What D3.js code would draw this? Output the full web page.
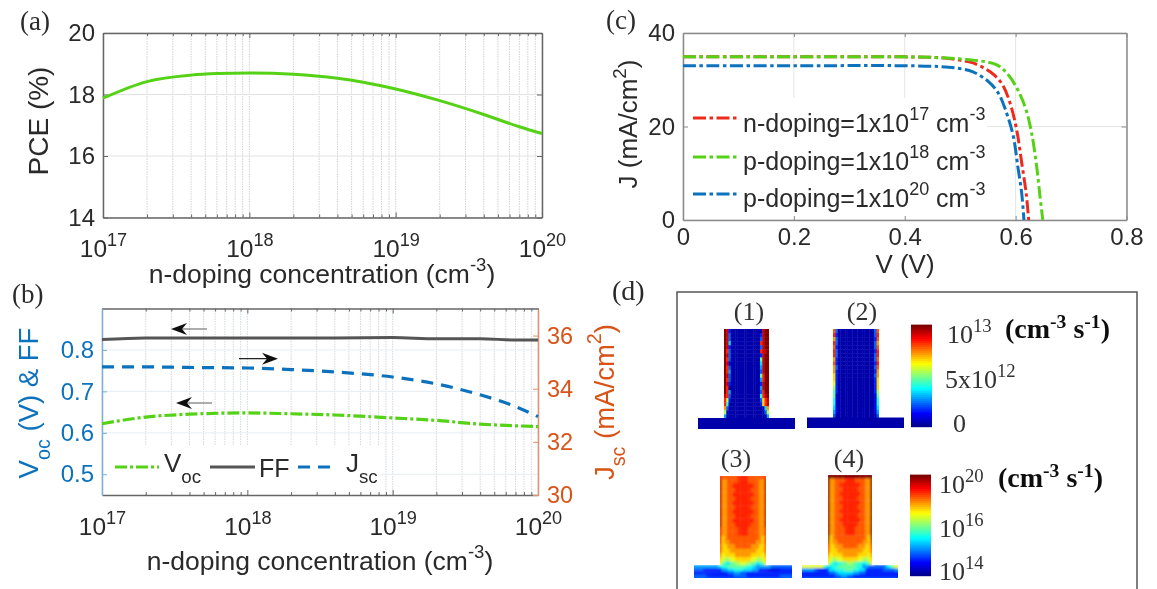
<!DOCTYPE html>
<html>
<head>
<meta charset="utf-8">
<script src="https://cdn.jsdelivr.net/npm/d3@7/dist/d3.min.js"></script>
<style>
html,body{margin:0;padding:0;background:#fff;overflow:hidden}
svg{display:block}
text{font-family:"Liberation Sans",Arial,sans-serif;fill:#2a2a2a}
.serif{font-family:"Liberation Serif","Times New Roman",serif}
</style>
</head>
<body>
<svg id="chart" width="1157" height="589"></svg>
<script>
// ---------- panel (a)
const dopingA = [1e17,2e17,4e17,6e17,1e18,2e18,4e18,6e18,1e19,2e19,4e19,7e19,1e20];
const pce     = [17.88,18.42,18.63,18.68,18.70,18.66,18.53,18.40,18.18,17.80,17.35,16.95,16.73];
const pceTicks = [14,16,18,20];
const decadeTicks = [1e17,1e18,1e19,1e20];
const minorMultipliers = [2,3,4,5,6,7,8,9];
// ---------- panel (b)
const dopingB = [1e17,2e17,4e17,1e18,2e18,4e18,1e19,2e19,4e19,7e19,1e20];
const voc = [0.622,0.638,0.645,0.648,0.646,0.643,0.636,0.630,0.621,0.617,0.615];
const ff  = [0.825,0.829,0.829,0.829,0.829,0.829,0.830,0.827,0.827,0.824,0.824];
const jsc = [34.82,34.82,34.80,34.78,34.72,34.63,34.44,34.18,33.77,33.33,32.95];
const leftTicksB = [0.5,0.6,0.7,0.8];
const rightTicksB = [30,32,34,36];
// ---------- panel (c)
const vGreen = [0,0.20,0.40,0.4643,0.523,0.566,0.587,0.604,0.619,0.629,0.638,0.644,0.649];
const jGreen = [34.9,34.9,34.9,34.7,34.2,33.2,31.0,27.8,23.5,18.5,11.4,5.0,0];
const vRed   = [0,0.20,0.40,0.4643,0.4985,0.523,0.554,0.575,0.590,0.602,0.611,0.619,0.6235];
const jRed   = [34.9,34.9,34.9,34.7,34.2,33.6,31.7,29.2,25.0,19.2,12.2,5.7,0];
const vBlue  = [0,0.20,0.40,0.4643,0.4985,0.523,0.551,0.569,0.584,0.596,0.604,0.611,0.615];
const jBlue  = [33.0,33.0,33.0,32.8,32.4,31.7,29.6,27.1,22.8,17.8,11.4,5.7,0];
const vTicks = [0,0.2,0.4,0.6,0.8];
const jTicks = [0,20,40];
// ---------- panel (d): hand-read maps, each character is one level 0..f on the jet scale
const map1Column = [
"fe200000000000000eff","fe300000000000002eff","fe300000000000003eff","fe50000000000000deff",
"fe200000000000003eff","fd30000000000000deef","fe300000000000002eff","fd300000000000007eff",
"fe100000000000005eff","fd300000000000004eff","fd400000000000003eff","fe300000000000007dff",
"fd300000000000004dff","fe200000000000002eff","fd000000000000004eff","fd400000000000003dff",
"ed300000000000006def","d8200000000000003ade","d6000000000000002ade","b300000000000000005b",
"81000000000000000038","40000000000000000004"];
const map1Base = ["0"];
const map2Column = [
"c30000000000000003c","d20000000000000003d","b30000000000000002c","d30000000000000003b",
"c20000000000000003c","d30000000000000002d","d30000000000000003d","b20000000000000003c",
"c20000000000000002d","b30000000000000003c","b20000000000000002b","a20000000000000003b",
"a20000000000000002a","920000000000000002a","820000000000000002a","7200000000000000028",
"7100000000000000017","6100000000000000016","6100000000000000016",
"5100000000000000015","4100000000000000014","3000000000000000003"];
const map2Base = ["0"];
const map3Column = [
"dccccccddddccccccd","ebbccccddddccccbbe","ebbccddddddddccbbe","ebbcccddddddcccbbe",
"ebbccddddddddccbbe","ebbcccddddddcccbbe","ebbccddddddddccbbe","ebbcccddddddcccbbe",
"ebbccddddddddccbbe","ebbcccddddddcccbbe","ebbccddddddddccbbe","ebbcccddddddcccbbe",
"dbbccccddddccccbbd","dbbccccddddccccbbd","dabccccccccccccbad","dabbccccccccccbbad",
"caabbbccccccbbbaac","caaabbbbbbbbbbaaac","b9aaaabbbbbbaaaa9b","a98899aaaaaa99889a",
"976577889988775679"];
const map3Base = ["4444444445667777776654444433333333","3333222222445566655544222111122222","2222222222223344332222222222222222","3333322222222233332222222222233333","3333333333333333333333333333333333"];
const map4Column = [
"ffffffffffffffffff","fbbccccddddccccbbf","fbbccddddddddccbbf","fbbcccddddddcccbbf",
"fbbccddddddddccbbf","fbbcccddddddcccbbf","fbbccddddddddccbbf","fbbcccddddddcccbbf",
"fbbccddddddddccbbf","fbbcccddddddcccbbf","fbbccddddddddccbbf","fbbcccddddddcccbbf",
"fbbccccddddccccbbf","fbbccccddddccccbbf","fabccccccccccccbaf","eabbccccccccccbbae",
"daabbbccccccbbbaad","caaabbbbbbbbbbaaac","b9aaaabbbbbbaaaa9b","a98899aaaaaa99889a",
"976566778877665679"];
const map4Base = ["9999999975566777777664433333356899","4444432222556667776655222222333344","2222222222334555554433222222222222","2222222222223344332222222222222222","3333333333333333333333333333333333"];
const colorbarLevels = d3.range(0,1.0001,0.02);

// ---------- styles
const GREEN="#55d218", DARK="#555555", BLUE="#0f72bd", ORANGE="#d95319", RED="#ee2a1e";
const svg=d3.select("#chart");
const defs=svg.append("defs");
const blur=(id,s)=>defs.append("filter").attr("id",id).attr("x","-10%").attr("y","-10%").attr("width","120%").attr("height","120%")
  .append("feGaussianBlur").attr("stdDeviation",s);
blur("soft",0.45); blur("soft2",0.5); blur("soft3",0.9);
const root=svg.append("g").attr("filter","url(#soft)");
root.append("rect").attr("width",1157).attr("height",589).attr("fill","#fff");

// text helper: parts are strings, or [text,"sup"|"sub"]
function rich(sel,parts,size,opts={}){
  const smallK=opts.k||0.68, up=opts.up||0.48, dn=opts.dn||0.3;
  sel.text(null).attr("font-size",size);
  let shift=0;
  parts.forEach(p=>{
    const s=typeof p==="string"?p:p[0], kind=typeof p==="string"?null:p[1];
    const ts=sel.append("tspan").text(s);
    let target=0;
    if(kind==="sup"){ts.attr("font-size",size*smallK);target=-size*up;}
    else if(kind==="sub"){ts.attr("font-size",size*smallK);target=size*dn;}
    if(target!==shift){ts.attr("dy",target-shift);shift=target;}
  });
  return sel;
}
function put(x,y,parts,size,o={}){
  const t=root.append("text").attr("x",x).attr("y",y)
    .attr("text-anchor",o.anchor||"start");
  if(o.cls)t.attr("class",o.cls);
  if(o.bold)t.attr("font-weight","bold");
  if(o.fill)t.style("fill",o.fill);
  if(o.rot)t.attr("transform",`rotate(-90 ${x} ${y})`);
  rich(t,parts,size,o);
  return t;
}
const minorTicks=d3.merge(decadeTicks.slice(0,-1).map(d=>minorMultipliers.map(m=>d*m)));
const expOf=d=>String(Math.round(Math.log10(d)));

function logGrid(g,x,y,gridCol,yVals,minorCol){
  g.selectAll(".gx").data(minorTicks.concat(decadeTicks)).join("line")
    .attr("x1",d=>x(d)).attr("x2",d=>x(d)).attr("y1",y.range()[0]).attr("y2",y.range()[1])
    .attr("stroke",minorCol).attr("stroke-width",1).attr("stroke-dasharray","1.5 1");
  g.selectAll(".gy").data(yVals).join("line")
    .attr("x1",x.range()[0]).attr("x2",x.range()[1]).attr("y1",d=>y(d)).attr("y2",d=>y(d))
    .attr("stroke",gridCol).attr("stroke-width",1);
}
function decadeAxis(g,x,yBottom,yTop,labelY,col){
  const b=g.append("g").attr("transform",`translate(0,${yBottom})`)
    .call(d3.axisBottom(x).tickValues(decadeTicks).tickSizeInner(-5).tickSizeOuter(0).tickPadding(0));
  b.select(".domain").attr("stroke",col).attr("stroke-width",1.5);
  b.selectAll(".tick line").attr("stroke",col);
  b.selectAll(".tick text").attr("y",labelY-yBottom).attr("dy",0).attr("text-anchor","middle")
    .each(function(d){rich(d3.select(this),["10",[expOf(d),"sup"]],24.5,{k:0.74,up:0.46});});
  const m=g.append("g").attr("transform",`translate(0,${yBottom})`)
    .call(d3.axisBottom(x).tickValues(minorTicks).tickSize(-3).tickFormat(""));
  m.select(".domain").remove(); m.selectAll("line").attr("stroke",col);
  const t=g.append("g").attr("transform",`translate(0,${yTop})`)
    .call(d3.axisTop(x).tickValues(decadeTicks).tickSizeInner(-5).tickSizeOuter(0).tickFormat(""));
  t.select(".domain").attr("stroke",col).attr("stroke-width",1.5);
  t.selectAll("line").attr("stroke",col);
  const tm=g.append("g").attr("transform",`translate(0,${yTop})`)
    .call(d3.axisTop(x).tickValues(minorTicks).tickSize(-3).tickFormat(""));
  tm.select(".domain").remove(); tm.selectAll("line").attr("stroke",col);
}
function sideAxis(g,gen,xPos,ticks,col,textCol,size,pad,fmt,showText=true){
  const a=g.append("g").attr("transform",`translate(${xPos},0)`)
    .call(gen.tickValues(ticks).tickSizeInner(-5).tickSizeOuter(0).tickPadding(pad).tickFormat(showText?fmt:""));
  a.select(".domain").attr("stroke",col).attr("stroke-width",1.5);
  a.selectAll("line").attr("stroke",col);
  a.selectAll("text").attr("font-size",size).style("fill",textCol).attr("font-family",null);
  return a;
}
const line=(x,y,xs,ys,curve)=>d3.line().x(i=>x(xs[i])).y(i=>y(ys[i])).curve(curve||d3.curveMonotoneX)(d3.range(xs.length));

// ---------- (a)
{
  const g=root.append("g");
  const x=d3.scaleLog().domain([1e17,1e20]).range([103,542]);
  const y=d3.scaleLinear().domain([14,20]).range([217.5,33]);
  logGrid(g,x,y,"#e2e2e2",pceTicks,"#d2d2d2");
  decadeAxis(g,x,217.5,33,257,"#666");
  sideAxis(g,d3.axisLeft(y),103,pceTicks,"#666","#2a2a2a",24,8,d3.format("d"));
  sideAxis(g,d3.axisRight(y),542,pceTicks,"#666","#2a2a2a",23,0,"",false);
  g.append("path").attr("d",line(x,y,dopingA,pce)).attr("fill","none").attr("stroke",GREEN).attr("stroke-width",3);
  put(20,30,["(a)"],27,{cls:"serif"});
  put(322,283,["n-doping concentration (cm",["-3","sup"],")"],26.5,{anchor:"middle",k:0.7,up:0.45});
  put(48,121,["PCE (%)"],28,{anchor:"middle",rot:true});
}
// ---------- (b)
{
  const g=root.append("g");
  const x=d3.scaleLog().domain([1e17,1e20]).range([102,538]);
  const y=d3.scaleLinear().domain([0.45,0.9]).range([495,308.5]);
  const yr=d3.scaleLinear().domain([30,37]).range([495,309]);
  logGrid(g,x,y,"#e6edf3",leftTicksB,"#d2d8dd");
  g.append("rect").attr("x",103).attr("y",445).attr("width",277).attr("height",49).attr("fill","#fff");
  decadeAxis(g,x,495,308.5,535,"#666");
  sideAxis(g,d3.axisLeft(y),102,leftTicksB,"#79afd8",BLUE,24,8,d3.format(".1f"));
  sideAxis(g,d3.axisRight(yr),538,rightTicksB,"#e2906f",ORANGE,23.5,9,d3.format("d"));
  const draw=(p,c,w,da)=>g.append("path").attr("d",p).attr("fill","none").attr("stroke",c).attr("stroke-width",w).attr("stroke-dasharray",da);
  draw(line(x,y,dopingB,ff),DARK,3,null);
  draw(line(x,yr,dopingB,jsc),BLUE,3.2,"12 8");
  draw(line(x,y,dopingB,voc),GREEN,3.2,"12 3 3 3");
  // legend keys
  const leg=(x0,x1,c,da)=>g.append("line").attr("x1",x0).attr("x2",x1).attr("y1",467).attr("y2",467).attr("stroke",c).attr("stroke-width",3).attr("stroke-dasharray",da);
  leg(115,159,GREEN,"12 3 3 3"); leg(210,255,DARK,null); leg(298,333,BLUE,"12 8");
  put(164,472,["V",["oc","sub"]],26,{k:0.72,dn:0.44});
  put(259,477,["FF"],25);
  put(346,472,["J",["sc","sub"]],26,{k:0.72,dn:0.44});
  // arrows
  const arrow=(x0,x1,yy)=>{
    const dir=x1>x0?1:-1;
    g.append("line").attr("x1",x0).attr("x2",x1-dir*6).attr("y1",yy).attr("y2",yy).attr("stroke",dir>0?"#222":"#777").attr("stroke-width",1.2);
    g.append("path").attr("d",`M${x1},${yy}L${x1-dir*16},${yy-6}L${x1-dir*11},${yy}L${x1-dir*16},${yy+6}Z`).attr("fill","#111");
  };
  arrow(207,171,329); arrow(239,278,358.7); arrow(212,176,403);
  put(12,303,["(b)"],27,{cls:"serif"});
  put(320,570,["n-doping concentration (cm",["-3","sup"],")"],26.5,{anchor:"middle",k:0.7,up:0.45});
  put(38,403,["V",["oc","sub"]," (V) & FF"],27.5,{anchor:"middle",rot:true,fill:BLUE,k:0.72,dn:0.44});
  put(614,402,["J",["sc","sub"]," (mA/cm",["2","sup"],")"],27.5,{anchor:"middle",rot:true,fill:ORANGE,k:0.72,dn:0.4});
}
// ---------- (c)
{
  const g=root.append("g");
  const x=d3.scaleLinear().domain([0,0.8]).range([683,1126.5]);
  const y=d3.scaleLinear().domain([0,40]).range([220,33]);
  g.selectAll(".gx").data(vTicks).join("line").attr("x1",d=>x(d)).attr("x2",d=>x(d)).attr("y1",220).attr("y2",33).attr("stroke","#e4e4e4");
  g.selectAll(".gy").data(jTicks).join("line").attr("x1",683).attr("x2",1126.5).attr("y1",d=>y(d)).attr("y2",d=>y(d)).attr("stroke","#e4e4e4");
  g.append("rect").attr("x",684).attr("y",98).attr("width",303).attr("height",121).attr("fill","#fff");
  const col="#8a8a8a";
  const bx=g.append("g").attr("transform","translate(0,220)").call(d3.axisBottom(x).tickValues(vTicks).tickSizeInner(-4).tickSizeOuter(0).tickPadding(0).tickFormat(d=>d===0?"0":d3.format(".1f")(d)));
  bx.select(".domain").attr("stroke",col).attr("stroke-width",1.5); bx.selectAll("line").attr("stroke",col);
  bx.selectAll("text").attr("font-size",24).attr("y",25).attr("dy",0).style("fill","#2a2a2a").attr("font-family",null);
  const tx=g.append("g").attr("transform","translate(0,33)").call(d3.axisTop(x).tickValues(vTicks).tickSizeInner(-4).tickSizeOuter(0).tickFormat(""));
  tx.select(".domain").attr("stroke",col).attr("stroke-width",1.5); tx.selectAll("line").attr("stroke",col);
  sideAxis(g,d3.axisLeft(y),683,jTicks,col,"#2a2a2a",24,8,d3.format("d"));
  sideAxis(g,d3.axisRight(y),1126.5,jTicks,col,"#2a2a2a",23,0,"",false);
  const draw=(xs,ys,c)=>g.append("path").attr("d",line(x,y,xs,ys,d3.curveCatmullRom.alpha(0.5))).attr("fill","none").attr("stroke",c).attr("stroke-width",3).attr("stroke-dasharray","13 3.5 3.5 3.5");
  draw(vRed,jRed,RED); draw(vGreen,jGreen,GREEN); draw(vBlue,jBlue,BLUE);
  const entries=[["n-doping=1x10","17",RED,118,132],["p-doping=1x10","18",GREEN,157,170],["p-doping=1x10","20",BLUE,194,207]];
  entries.forEach(e=>{
    g.append("line").attr("x1",693).attr("x2",737).attr("y1",e[3]).attr("y2",e[3]).attr("stroke",e[2]).attr("stroke-width",3).attr("stroke-dasharray","13 3.5 3.5 3.5");
    put(743,e[4],[e[0],[e[1],"sup"]," cm",["-3","sup"]],25,{k:0.72,up:0.5});
  });
  put(606,29,["(c)"],27,{cls:"serif"});
  put(905,273,["V (V)"],26,{anchor:"middle"});
  put(637,124,["J (mA/cm",["2","sup"],")"],26,{anchor:"middle",rot:true,k:0.72,up:0.42});
}
// ---------- (d)
{
  const jetR=d3.scaleLinear().domain([0,.375,.625,.875,1]).range([0,0,255,255,128]).clamp(true);
  const jetG=d3.scaleLinear().domain([0,.125,.375,.625,.875,1]).range([0,0,255,255,0,0]).clamp(true);
  const jetB=d3.scaleLinear().domain([0,.125,.375,.625,1]).range([143,255,255,0,0]).clamp(true);
  const jet=t=>`rgb(${Math.round(jetR(t))},${Math.round(jetG(t))},${Math.round(jetB(t))})`;
  const level=d3.scaleLinear().domain([0,12,13,14,15]).range([0.03,0.79,0.84,0.93,1]);
  root.append("path").attr("d","M677,589V292H1137V589").attr("fill","none").attr("stroke","#555").attr("stroke-width",1.5);
  const dg=root.append("g").attr("filter","url(#soft2)");
  // the two lower maps are smoothed inside their own outline
  const clip=defs.append("clipPath").attr("id","lowerDevices");
  [[720,476,46,90],[694,565,98,13],[828,475,44,91],[802,565,96,13]].forEach(r=>
    clip.append("rect").attr("x",r[0]).attr("y",r[1]).attr("width",r[2]).attr("height",r[3]));
  const lg=root.append("g").attr("clip-path","url(#lowerDevices)").append("g").attr("filter","url(#soft3)");
  function drawMap(host,rows,x0,x1,y0,y1){
    const ry=d3.scaleBand().domain(d3.range(rows.length)).range([y0,y1]);
    rows.forEach((row,i)=>{
      const cx=d3.scaleLinear().domain([0,row.length]).range([x0,x1]);
      host.selectAll(null).data(row.split("")).join("rect")
        .attr("x",(d,j)=>cx(j)).attr("width",(d,j)=>cx(j+1)-cx(j)+(j<row.length-1?0.4:0))
        .attr("y",ry(i)).attr("height",ry.bandwidth()+(i<rows.length-1?0.4:0))
        .attr("fill",d=>jet(level(parseInt(d,16))));
    });
  }
  drawMap(dg,map1Column,724,769,329,418.5); drawMap(dg,map1Base,698,795,418,429);
  drawMap(dg,map2Column,833,879,329,418); drawMap(dg,map2Base,807,904,417.5,428);
  drawMap(lg,map3Column,719,767,475,566); drawMap(lg,map3Base,691,795,565,581);
  drawMap(lg,map4Column,827,873,474,566); drawMap(lg,map4Base,799,901,565,581);
  const bar=(x0,x1,y0,y1)=>{
    const yy=d3.scaleLinear().domain([0,1]).range([y1,y0]);
    dg.selectAll(null).data(colorbarLevels).join("rect")
      .attr("x",x0).attr("width",x1-x0).attr("y",d=>yy(d)-2.4).attr("height",2.6).attr("fill",d=>jet(d));
  };
  bar(911,932,327,427); bar(910,931,477,576);
  const S={cls:"serif",fill:"#333"};
  [["(1)",749,320],["(2)",862,320],["(3)",736,467],["(4)",849,467]].forEach(d=>put(d[1],d[2],[d[0]],26,{...S,anchor:"middle"}));
  put(612,300,["(d)"],28,{cls:"serif"});
  const L={...S,k:0.72,up:0.42};
  put(947,343,["10",["13","sup"]],26,L);
  put(945,388,["5x10",["12","sup"]],26,L);
  put(953,432,["0"],26,S);
  put(939,493,["10",["20","sup"]],26,L);
  put(939,537,["10",["16","sup"]],26,L);
  put(939,580,["10",["14","sup"]],26,L);
  const B={cls:"serif",bold:true,fill:"#111",k:0.7,up:0.35};
  put(1005,338,["(cm",["-3","sup"]," s",["-1","sup"],")"],28,B);
  put(998,487,["(cm",["-3","sup"]," s",["-1","sup"],")"],28,B);
}
</script>
</body>
</html>
